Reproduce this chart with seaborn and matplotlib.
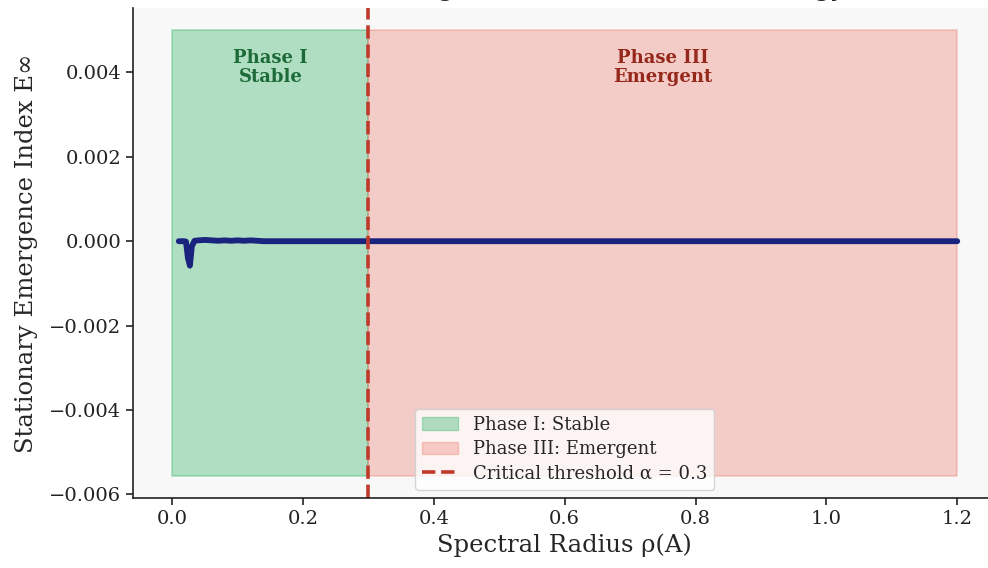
import numpy as np
import pandas as pd
import matplotlib
matplotlib.use("Agg")
import matplotlib.pyplot as plt
import seaborn as sns
from matplotlib.patches import Patch
from matplotlib.lines import Line2D

# values
rho = [0.010, 0.018, 0.021, 0.024, 0.027, 0.030, 0.034, 0.040, 0.050, 0.060,
       0.070, 0.080, 0.090, 0.100, 0.110, 0.120, 0.130, 0.140, 0.200, 0.300,
       0.600, 0.900, 1.200]
e_inf = [0.0, 0.0, -0.00001, -0.00040, -0.00058, -0.00012, 0.00001, 0.00002,
         0.00003, 0.00002, 0.00001, 0.00002, 0.00001, 0.00002, 0.00001,
         0.00002, 0.00001, 0.0, 0.0, 0.0, 0.0, 0.0, 0.0]

phase_names = ["Phase I: Stable", "Phase III: Emergent"]
phase_bounds = [(0.0, 0.3), (0.3, 1.2)]
phase_labels = ["Phase I\nStable", "Phase III\nEmergent"]
phase_fill = ["#27ae60", "#e74c3c"]
phase_alpha = [0.35, 0.25]
phase_text = ["#1e6b3a", "#96281b"]
band_low, band_high = -0.00556, 0.005
alpha_crit = 0.3
title = "Phase Diagram: Critical Threshold of Energy"

sns.set_theme(style="white")
plt.rcParams["font.family"] = ["DejaVu Serif"]

fig = plt.figure(figsize=(9.88, 5.68), dpi=100)
ax = fig.add_axes([0.1346, 0.1232, 0.874, 0.8627])
ax.set_facecolor("#f8f8f8")

for (x0, x1), col, a, name in zip(phase_bounds, phase_fill, phase_alpha, phase_names):
    ax.fill_between([x0, x1], band_low, band_high, color=col, alpha=a,
                    label=name, edgecolor=col, linewidth=1.2)

df = pd.DataFrame({"rho": rho, "E": e_inf})
sns.lineplot(data=df, x="rho", y="E", ax=ax, color="#1a237e", linewidth=4.2)

ax.axvline(alpha_crit, color="#c0392b", linestyle="--", linewidth=2.6)

for (x0, x1), lab, col in zip(phase_bounds, phase_labels, phase_text):
    ax.text((x0 + x1) / 2, 0.00455, lab, ha="center", va="top",
            fontsize=13, fontweight="bold", color=col, linespacing=1.05)

ax.set_xlabel("Spectral Radius ρ(A)", fontsize=17.5)
ax.set_ylabel("Stationary Emergence Index E∞", fontsize=17.5, labelpad=8)
ax.tick_params(axis="both", labelsize=14, length=5, width=1.2,
               left=True, bottom=True, colors="#222222")
ax.set_xticks([0.0, 0.2, 0.4, 0.6, 0.8, 1.0, 1.2])
ax.set_yticks([-0.006, -0.004, -0.002, 0.0, 0.002, 0.004])
ax.set_xlim(-0.06, 1.26)
for s in ["top", "right"]:
    ax.spines[s].set_visible(False)
for s in ["left", "bottom"]:
    ax.spines[s].set_color("#222222")
    ax.spines[s].set_linewidth(1.2)

handles = [Patch(facecolor=phase_fill[0], alpha=phase_alpha[0], edgecolor=phase_fill[0]),
           Patch(facecolor=phase_fill[1], alpha=phase_alpha[1], edgecolor=phase_fill[1]),
           Line2D([0], [0], color="#c0392b", linestyle="--", linewidth=2.6)]
labels = phase_names + [f"Critical threshold α = {alpha_crit}"]
ax.legend(handles, labels, loc="lower center", fontsize=13, frameon=True,
          facecolor="white", edgecolor="#cccccc", framealpha=0.8,
          labelspacing=0.35, borderaxespad=0.45)

fig.text(0.59, 1.0 + 3 / 568, title, ha="center", va="baseline", fontsize=15,
         fontweight="bold", family="DejaVu Sans")

fig.savefig("out.png", dpi=100)
